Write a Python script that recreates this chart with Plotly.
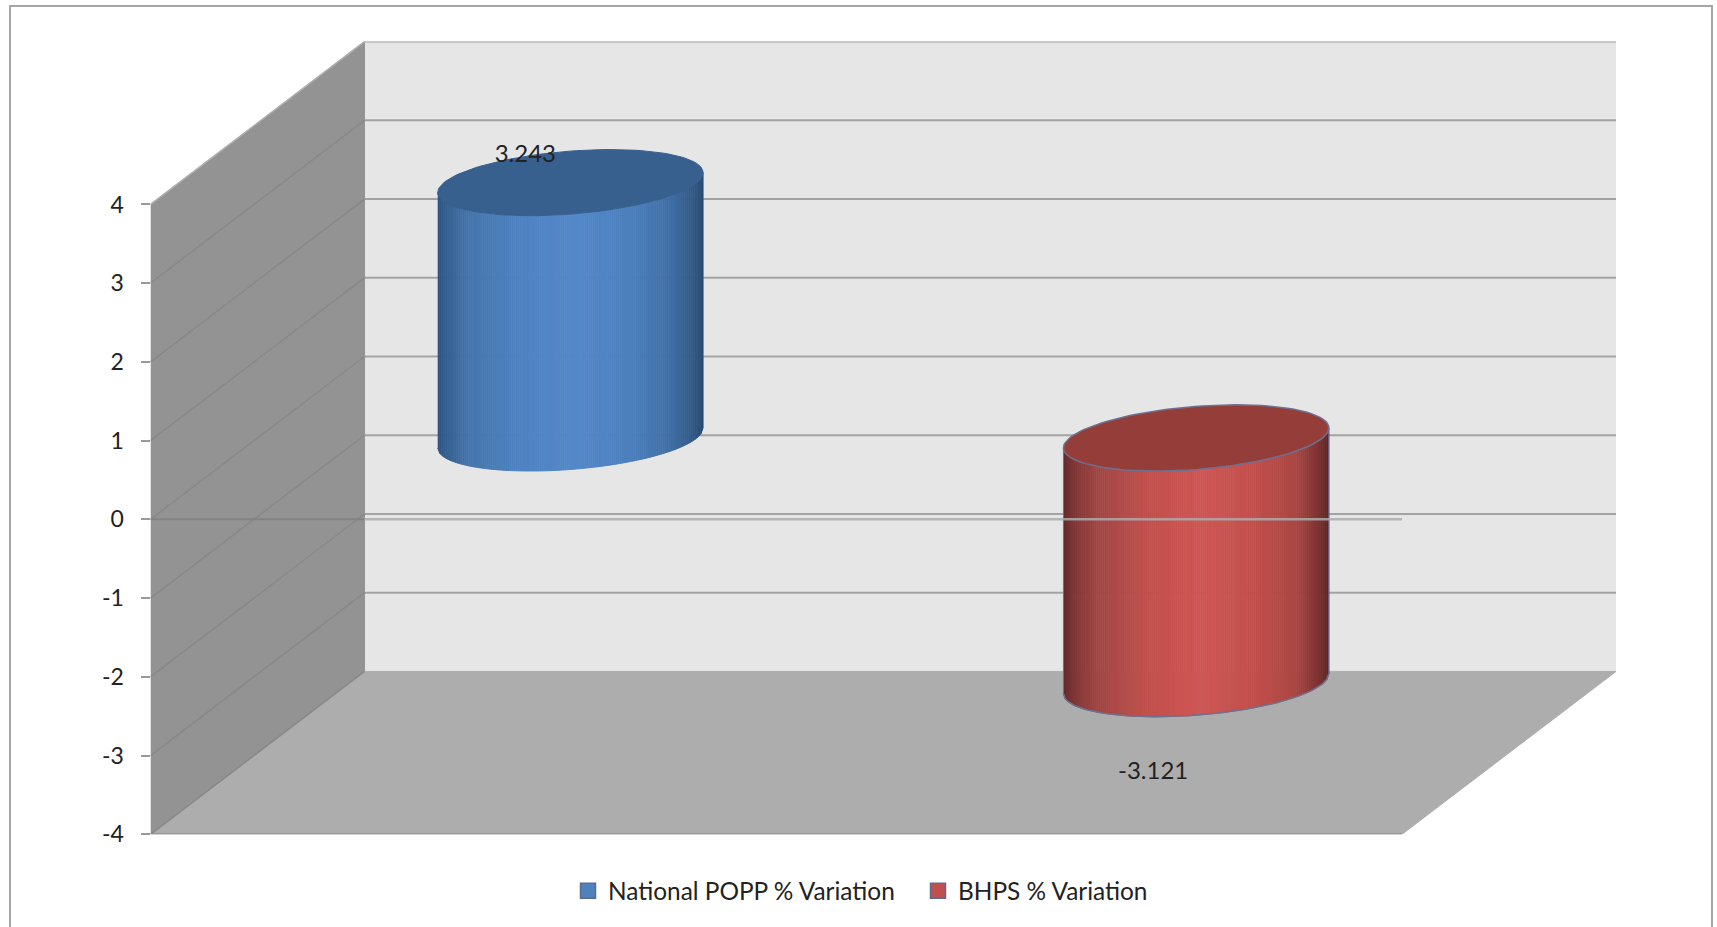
import numpy as np
import plotly.graph_objects as go

# ---- data ----
series_names = ["National POPP % Variation", "BHPS % Variation"]
series_values = [3.243, -3.121]
value_labels = ["3.243", "-3.121"]
y_ticks = [4, 3, 2, 1, 0, -1, -2, -3, -4]

# ---- styles ----
W, H = 1717, 942
FONT = "Lato, 'Open Sans', sans-serif"
TEXT = "#222222"
body_stops = [0, .03, .12, .3, .52, .72, .88, .96, 1]
body_colours = [
    ["#2e527c", "#35608f", "#4676ae", "#4e82c0", "#5388ca", "#4c80bd", "#3f6fa6", "#335a87", "#2b4c73"],
    ["#652a2c", "#7a3233", "#a04644", "#c04f4c", "#d05654", "#c24f4c", "#a94642", "#7d3332", "#5c2424"],
]
cap_colours = ["#38608f", "#953d38"]
swatch_colours = ["#4f81bd", "#c0504d"]
outline = [None, "#6f7090"]
label_offset_px = [(-45, -27), (-43, 8)]   # label position relative to the projected bar end

# projection of the chart box, in axis units
PX_X = 1 / 625.75
PX_Y = 1 / 78.56
DEPTH_X = 214 * PX_X
DEPTH_Y = 162.5 * PX_Y
X_MAX = 2 + DEPTH_X
Y_MIN, Y_MAX = y_ticks[-1], y_ticks[0] + DEPTH_Y
ELL_A, ELL_B, ELL_C = 126.5 * PX_X, 40 * PX_X, 33 * PX_Y


def hex_rgb(h):
    return np.array([int(h[i:i + 2], 16) for i in (1, 3, 5)], float)


def mix(colours, f):
    arr = np.array([hex_rgb(c) for c in colours])
    rgb = [np.interp(f, body_stops, arr[:, k]) for k in range(3)]
    return "rgb(%d,%d,%d)" % tuple(rgb)


def poly(x, y, fill, line=None, width=1):
    return go.Scatter(x=list(x), y=list(y), mode="lines", fill="toself", fillcolor=fill,
                      line=dict(color=line or fill, width=width), hoverinfo="skip",
                      showlegend=False)


def seg(x, y, colour, width):
    return go.Scatter(x=list(x), y=list(y), mode="lines", line=dict(color=colour, width=width),
                      hoverinfo="skip", showlegend=False)


fig = go.Figure()

# walls and floor
fig.add_trace(poly([DEPTH_X, X_MAX, X_MAX, DEPTH_X], [Y_MIN + DEPTH_Y, Y_MIN + DEPTH_Y, Y_MAX, Y_MAX], "#e6e6e6"))
fig.add_trace(poly([0, DEPTH_X, DEPTH_X, 0], [Y_MIN, Y_MIN + DEPTH_Y, Y_MAX, y_ticks[0]], "#939393"))
fig.add_trace(poly([0, 2, X_MAX, DEPTH_X], [Y_MIN, Y_MIN, Y_MIN + DEPTH_Y, Y_MIN + DEPTH_Y], "#adadad"))

# grid lines on back and side walls
for v in y_ticks:
    if v != y_ticks[-1]:
        fig.add_trace(seg([DEPTH_X, X_MAX], [v + DEPTH_Y, v + DEPTH_Y], "#a3a3a3", 2))
    fig.add_trace(seg([0, DEPTH_X], [v, v + DEPTH_Y], "#888888" if v != y_ticks[0] else "#b0b0b0", 1.5))
fig.add_trace(seg([0, 2], [Y_MIN, Y_MIN], "#8f8f8f", 2))

# cylinders
t0 = np.arctan2(ELL_B, ELL_A)
n_strips = 130
for i, value in enumerate(series_values):
    cx = i + 0.5 + DEPTH_X / 2
    cy = DEPTH_Y / 2
    low, high = min(0, value), max(0, value)
    u = np.linspace(-1, 1, n_strips + 1)
    t = t0 + 2 * np.pi - np.arccos(u)
    ax = cx + ELL_A * np.cos(t) + ELL_B * np.sin(t)
    ay = cy + ELL_C * np.sin(t)
    for k in range(n_strips):
        col = mix(body_colours[i], (k + 0.5) / n_strips)
        fig.add_trace(poly(
            [ax[k], ax[k + 1], ax[k + 1], ax[k]],
            [ay[k] + low, ay[k + 1] + low, ay[k + 1] + high, ay[k] + high], col))
    tt = np.linspace(0, 2 * np.pi, 121)
    ex = cx + ELL_A * np.cos(tt) + ELL_B * np.sin(tt)
    ey = cy + ELL_C * np.sin(tt) + high
    fig.add_trace(poly(ex, ey, cap_colours[i], outline[i], 1.5 if outline[i] else 1))
    if outline[i]:
        fig.add_trace(seg(ax, ay + low, outline[i], 1.5))
        fig.add_trace(seg([ax[0], ax[0]], [ay[0] + low, ay[0] + high], outline[i], 1))
        fig.add_trace(seg([ax[-1], ax[-1]], [ay[-1] + low, ay[-1] + high], outline[i], 1))

# zero line of the chart runs in front of the bars
fig.add_trace(seg([0, DEPTH_X], [0, 0], "#838383", 2))
fig.add_trace(seg([DEPTH_X, 2], [0, 0], "rgba(172,172,172,0.85)", 2.5))

# data labels
for i, value in enumerate(series_values):
    dx, dy = label_offset_px[i]
    fig.add_trace(go.Scatter(
        x=[i + 0.5 + DEPTH_X / 2 + dx * PX_X],
        y=[value + DEPTH_Y / 2 * (1 if value > 0 else 0) - dy * PX_Y],
        mode="text", text=[value_labels[i]], textposition="middle center",
        textfont=dict(family=FONT, size=24, color=TEXT),
        hoverinfo="skip", showlegend=False))

# legend entries
for name, colour in zip(series_names, swatch_colours):
    fig.add_trace(go.Scatter(
        x=[None], y=[None], mode="markers", name=name,
        marker=dict(symbol="square", size=15, color=colour, line=dict(color="#5d6b8c", width=1.5))))

fig.update_layout(
    width=W, height=H, autosize=False,
    margin=dict(l=0, r=0, t=0, b=0),
    paper_bgcolor="white", plot_bgcolor="rgba(0,0,0,0)",
    xaxis=dict(domain=[150.5 / W, (150.5 + 625.75 * X_MAX) / W], range=[0, X_MAX], visible=False, fixedrange=True),
    yaxis=dict(
        domain=[1 - 832.5 / 927, 1 - 41.5 / 927], range=[Y_MIN, Y_MAX], anchor="x",
        tickmode="array", tickvals=y_ticks, ticktext=[str(v) for v in y_ticks],
        ticks="outside", ticklen=9, tickwidth=1.5, tickcolor="#9a9a9a", ticklabelstandoff=12,
        tickfont=dict(family=FONT, size=23, color=TEXT),
        showgrid=False, zeroline=False, showline=False, fixedrange=True),
    showlegend=True,
    legend=dict(
        orientation="h", x=568 / W, xanchor="left", y=1 - 889 / 927, yanchor="middle",
        entrywidth=305, entrywidthmode="pixels", itemclick=False, itemdoubleclick=False,
        bgcolor="rgba(0,0,0,0)",
        font=dict(family=FONT, size=24.4, color=TEXT)),
    shapes=[dict(type="path", xref="paper", yref="paper",
                 path=f"M {10 / W} 0 L {10 / W} {1 - 6 / 927} L {1712 / W} {1 - 6 / 927} L {1712 / W} 0",
                 line=dict(color="#a6a6a6", width=2))],
)

fig.write_html("out.html", config={"displayModeBar": False},
               post_script="document.body.style.margin='0';document.body.style.overflow='hidden';")
